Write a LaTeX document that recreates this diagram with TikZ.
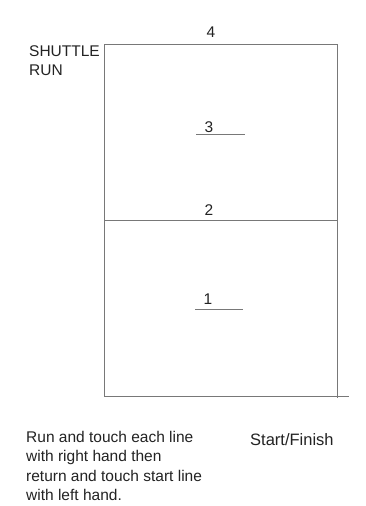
\documentclass[tikz,border=0pt]{standalone}
\usepackage{fontspec}
\setmainfont{Liberation Sans}
\usepackage{xcolor}
\usepackage{tikz}
\usetikzlibrary{positioning}
\definecolor{linegray}{RGB}{120,120,120}
\definecolor{inkgray}{RGB}{35,35,35}
\tikzset{
  court/.style={draw=linegray, line width=0.9pt},
  lbl/.style={font=\fontsize{15.5}{19.5}\selectfont, text=inkgray, inner sep=0pt},
  note/.style={lbl, align=left},
}

\begin{document}
\begin{tikzpicture}[x=1pt, y=-1pt]
  \useasboundingbox[fill=white] (0,0) rectangle (366,506);
  % court outline and lines
  \draw[court] (104,396) -- (104,44) -- (337,44) -- (337,398);
  \draw[court] (104,396) -- (349,396);
  \draw[court] (104,220) -- (337,220);
  \draw[court] (196,134) -- (245,134);
  \draw[court] (195,309) -- (243,309);
  % labels
  \node[lbl, anchor=base] (four) at (211,37) {4};
  \node[lbl, anchor=base] (three) at (209,132) {3};
  \node[lbl, anchor=base] (two) at (209,215) {2};
  \node[lbl, anchor=base] (one) at (208,304) {1};
  \node[note, anchor=north west] (title) at (29,45) {SHUTTLE\\RUN};
  \node[note, anchor=north west] (rules) at (26,431) {Run and touch each line\\with right hand then\\return and touch start line\\with left hand.};
  \node[lbl, font=\fontsize{16.5}{19.5}\selectfont, anchor=base west] (start) at (250,445) {Start/Finish};
\end{tikzpicture}
\end{document}
